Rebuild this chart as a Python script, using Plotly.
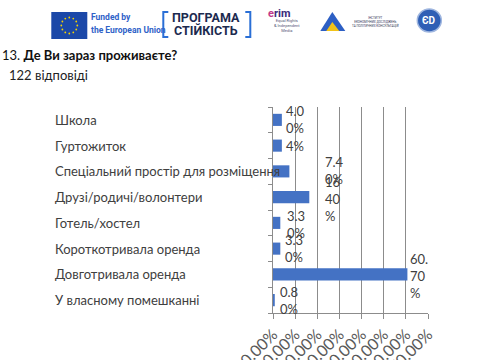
import math
import plotly.graph_objects as go

# ---- data ----
categories = [
    "Школа",
    "Гуртожиток",
    "Спеціальний простір для розміщення",
    "Друзі/родичі/волонтери",
    "Готель/хостел",
    "Короткотривала оренда",
    "Довготривала оренда",
    "У власному помешканні",
]
values = [4.0, 4.0, 7.4, 16.4, 3.3, 3.3, 60.7, 0.8]
value_labels = ["4.0<br>0%", "4%", "7.4<br>0%", "16<br>40<br>%", "3.3<br>0%", "3.3<br>0%", "60.<br>70<br>%", "0.8<br>0%"]
tick_vals = [0, 10, 20, 30, 40, 50, 60, 70]
tick_text = ["0.00%", "10.00%", "20.00%", "30.00%", "40.00%", "50.00%", "60.00%", "70.00%"]
title_text = "13. <b>Де Ви зараз проживаєте?</b>"
subtitle_text = "122 відповіді"

# ---- layout geometry (pixels) ----
W, H = 480, 360
L, R, T, B = 272.7, 427.7, 107, 313
label_xshift = [2, 2, 34, 14, 5, 3, 1, 3]
label_yshift = [0, 0, 1, -2, -2, 0, -2, 0]

FONT = "Lato, Carlito, 'Liberation Sans', sans-serif"
GRID = "#8c8c8c"
TXT = "#404040"
BAR = "#4472c4"


def px(x):
    return (x - L) / (R - L)


def py(y):
    return (B - y) / (B - T)


fig = go.Figure()
fig.add_trace(go.Bar(
    x=values, y=categories, orientation="h",
    marker=dict(color=BAR, line=dict(width=0)),
    hoverinfo="skip",
))

annotations = []
# value labels
for c, v, t, dx, dy in zip(categories, values, value_labels, label_xshift, label_yshift):
    annotations.append(dict(
        x=v, y=c, xref="x", yref="y", text=t, showarrow=False,
        xanchor="left", yanchor="middle", align="left",
        xshift=dx, yshift=dy,
        font=dict(family=FONT, size=13, color=TXT),
    ))
# category labels (left aligned)
for c in categories:
    annotations.append(dict(
        x=px(53), y=c, xref="paper", yref="y", text=c, showarrow=False,
        xanchor="left", yanchor="middle",
        font=dict(family=FONT, size=13, color=TXT),
    ))

# title / subtitle
annotations.append(dict(x=px(0), y=py(55), xref="paper", yref="paper", text=title_text,
                        showarrow=False, xanchor="left", yanchor="middle",
                        font=dict(family=FONT, size=13, color="#111111")))
annotations.append(dict(x=px(7), y=py(75), xref="paper", yref="paper", text=subtitle_text,
                        showarrow=False, xanchor="left", yanchor="middle",
                        font=dict(family=FONT, size=13, color="#222222")))

# header decorations
shapes = []
# EU flag
shapes.append(dict(type="rect", xref="paper", yref="paper", x0=px(51), x1=px(87), y0=py(39), y1=py(12),
                   fillcolor="#1b48a8", line=dict(width=0), layer="above"))
for k in range(12):
    a = 2 * math.pi * k / 12
    cx, cy = 69 + 8 * math.cos(a), 25.5 + 8 * math.sin(a)
    shapes.append(dict(type="circle", xref="paper", yref="paper", x0=px(cx - 0.9), x1=px(cx + 0.9),
                       y0=py(cy + 0.9), y1=py(cy - 0.9), fillcolor="#f6d200", line=dict(width=0),
                       layer="above"))
annotations.append(dict(x=px(89), y=py(17), xref="paper", yref="paper", text="<b>Funded by</b>",
                        showarrow=False, xanchor="left", yanchor="middle",
                        font=dict(family="Roboto, sans-serif", size=8.5, color="#2f62c8")))
annotations.append(dict(x=px(89), y=py(30), xref="paper", yref="paper", text="<b>the European Union</b>",
                        showarrow=False, xanchor="left", yanchor="middle",
                        font=dict(family="Roboto, sans-serif", size=8.5, color="#2f62c8")))
# ПРОГРАМА СТІЙКІСТЬ with brackets
for x0, x1, side in [(163, 168, "l"), (245, 250, "r")]:
    xv = x0 if side == "l" else x1
    xe = x1 if side == "l" else x0
    shapes.append(dict(type="path", xref="paper", yref="paper",
                       path=(f"M {px(xe)},{py(12)} L {px(xv)},{py(12)} "
                             f"L {px(xv)},{py(37)} L {px(xe)},{py(37)}"),
                       line=dict(color="#2a6fd6", width=2), layer="above"))
annotations.append(dict(x=px(206), y=py(17), xref="paper", yref="paper", text="<b>ПРОГРАМА</b>",
                        showarrow=False, xanchor="center", yanchor="middle",
                        font=dict(family="Roboto, sans-serif", size=12.5, color="#1c2a4f")))
annotations.append(dict(x=px(206), y=py(31), xref="paper", yref="paper", text="<b>СТІЙКІСТЬ</b>",
                        showarrow=False, xanchor="center", yanchor="middle",
                        font=dict(family="Roboto, sans-serif", size=12.5, color="#1c2a4f")))
# erim
annotations.append(dict(x=px(266), y=py(13), xref="paper", yref="paper",
                        text="<b><span style='color:#c0398a'>e</span>rim</b>",
                        showarrow=False, xanchor="left", yanchor="middle",
                        font=dict(family="Roboto, sans-serif", size=11, color="#3a2a7a")))
annotations.append(dict(x=px(272), y=py(26), xref="paper", yref="paper",
                        text="Equal Rights<br>& Independent<br>Media",
                        showarrow=False, xanchor="left", yanchor="middle",
                        font=dict(family="Roboto, sans-serif", size=4, color="#555577")))
# triangle logo
shapes.append(dict(type="path", xref="paper", yref="paper",
                   path=f"M {px(332)},{py(12)} L {px(320)},{py(31)} L {px(345)},{py(31)} Z",
                   fillcolor="#2d5fc4", line=dict(width=0), layer="above"))
shapes.append(dict(type="path", xref="paper", yref="paper",
                   path=f"M {px(332)},{py(22)} L {px(326)},{py(31)} L {px(339)},{py(31)} Z",
                   fillcolor="#f2c318", line=dict(width=0), layer="above"))
annotations.append(dict(x=px(350), y=py(22), xref="paper", yref="paper",
                        text="ІНСТИТУТ<br>ЕКОНОМІЧНИХ ДОСЛІДЖЕНЬ<br>ТА ПОЛІТИЧНИХ КОНСУЛЬТАЦІЙ",
                        showarrow=False, xanchor="left", yanchor="middle",
                        font=dict(family="Roboto, sans-serif", size=3, color="#333355")))
# circle logo
shapes.append(dict(type="circle", xref="paper", yref="paper", x0=px(417), x1=px(441), y0=py(32), y1=py(9),
                   fillcolor="#2f5fb5", line=dict(color="#9fb6df", width=1.5), layer="above"))
annotations.append(dict(x=px(429), y=py(20.5), xref="paper", yref="paper", text="<b>ЄD</b>",
                        showarrow=False, xanchor="center", yanchor="middle",
                        font=dict(family="Roboto, sans-serif", size=10, color="white")))

fig.update_layout(
    width=W, height=H,
    margin=dict(l=L, r=W - R, t=T, b=H - B, pad=0),
    paper_bgcolor="white", plot_bgcolor="white",
    showlegend=False,
    bargap=0.53,
    annotations=annotations,
    shapes=shapes,
    xaxis=dict(
        range=[0, 70], tickvals=tick_vals, ticktext=tick_text, tickangle=-45,
        showgrid=True, gridcolor=GRID, gridwidth=1, zeroline=False,
        showline=True, linecolor=GRID, linewidth=1,
        ticks="outside", ticklen=5, tickcolor=GRID,
        tickfont=dict(family=FONT, size=16, color="#595959"), automargin=False,
    ),
    yaxis=dict(
        categoryorder="array", categoryarray=categories[::-1], autorange=False,
        range=[-0.5, len(categories) - 0.5],
        showticklabels=False, showline=True, linecolor=GRID, linewidth=1,
        ticks="outside", ticklen=4, tickcolor=GRID, tickson="boundaries",
        showgrid=False, zeroline=False, automargin=False,
    ),
)

fig.write_html(
    "out.html",
    config={"displayModeBar": False, "staticPlot": True},
    post_script="document.body.style.margin='0';document.body.style.overflow='hidden';",
)
